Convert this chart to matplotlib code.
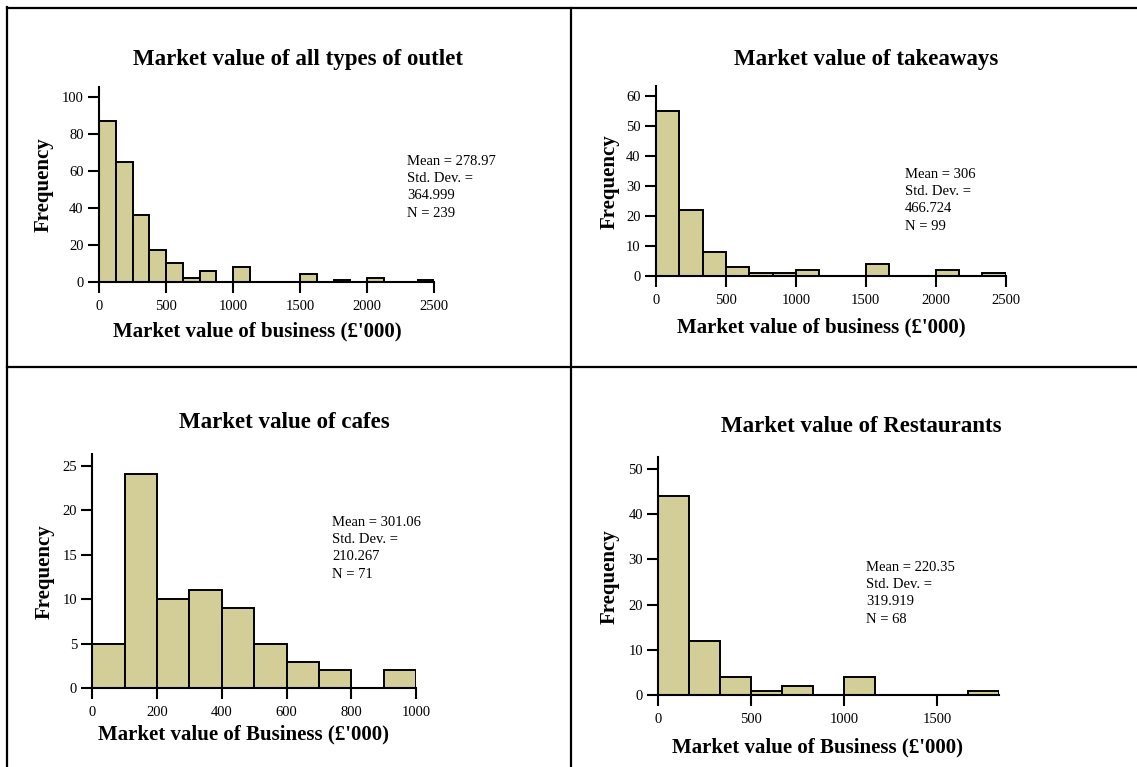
import numpy as np
import matplotlib.pyplot as plt
from matplotlib.lines import Line2D

plt.rcParams["font.family"] = ["Liberation Serif", "DejaVu Serif"]

# Frequencies per bin
outlet_edges = np.arange(0, 2500 + 1, 125)
outlet_counts = [87, 65, 36, 17, 10, 2, 6, 0, 8, 0, 0, 0, 4, 0, 1, 0, 2, 0, 0, 1]

takeaway_edges = np.linspace(0, 2500, 16)
takeaway_counts = [55, 22, 8, 3, 1, 1, 2, 0, 0, 4, 0, 0, 2, 0, 1]

cafe_edges = np.arange(0, 1000 + 1, 100)
cafe_counts = [5, 24, 10, 11, 9, 5, 3, 2, 0, 2]

restaurant_edges = np.linspace(0, 11 * 2500 / 15, 12)
restaurant_counts = [44, 12, 4, 1, 2, 0, 4, 0, 0, 0, 1]

titles = [
    "Market value of all types of outlet",
    "Market value of takeaways",
    "Market value of cafes",
    "Market value of Restaurants",
]
xlabels = [
    "Market value of business (£'000)",
    "Market value of business (£'000)",
    "Market value of Business (£'000)",
    "Market value of Business (£'000)",
]
stats = [
    "Mean = 278.97\nStd. Dev. =\n364.999\nN = 239",
    "Mean = 306\nStd. Dev. =\n466.724\nN = 99",
    "Mean = 301.06\nStd. Dev. =\n210.267\nN = 71",
    "Mean = 220.35\nStd. Dev. =\n319.919\nN = 68",
]
x_ticks = [
    [0, 500, 1000, 1500, 2000, 2500],
    [0, 500, 1000, 1500, 2000, 2500],
    [0, 200, 400, 600, 800, 1000],
    [0, 500, 1000, 1500],
]
y_ticks = [
    [0, 20, 40, 60, 80, 100],
    [0, 10, 20, 30, 40, 50, 60],
    [0, 5, 10, 15, 20, 25],
    [0, 10, 20, 30, 40, 50],
]
y_tops = [105.7, 63.3, 26.3, 52.7]

W, H = 1137, 767
bar_color = "#d3ce98"

fig = plt.figure(figsize=(W / 100, H / 100), dpi=100)


def px(x, y):
    # pixel position -> figure fraction
    return x / W, 1 - y / H


# axes boxes in pixels: left, x-axis row, width, top of y spine
boxes = [
    (99, 281.7, 335.3, 86.7),
    (656, 276.3, 349.7, 86.0),
    (92.3, 688.3, 323.7, 454.0),
    (658.3, 695.3, 341.0, 456.7),
]
title_pos = [(298, 60), (866, 60), (284, 423), (861, 426)]
xlabel_pos = [(257, 331), (821, 327), (244, 734), (818, 747)]
ylabel_pos = [(44, 185), (610, 182), (45, 572), (610, 577)]
stats_pos = [(407, 155), (905, 168), (332, 516), (866, 561)]

data = [
    (outlet_edges, outlet_counts),
    (takeaway_edges, takeaway_counts),
    (cafe_edges, cafe_counts),
    (restaurant_edges, restaurant_counts),
]

for i, (edges, counts) in enumerate(data):
    left, base, width, top = boxes[i]
    ax = fig.add_axes([left / W, 1 - base / H, width / W, (base - top) / H])

    ax.bar(
        edges[:-1],
        counts,
        width=np.diff(edges),
        align="edge",
        color=bar_color,
        edgecolor="black",
        linewidth=1.4,
        zorder=2,
    )

    ax.set_xlim(edges[0], edges[-1])
    ax.set_ylim(0, y_tops[i])
    ax.set_xticks(x_ticks[i])
    ax.set_yticks(y_ticks[i])
    ax.patch.set_alpha(0)

    for side in ["top", "right"]:
        ax.spines[side].set_visible(False)
    for side in ["left", "bottom"]:
        ax.spines[side].set_linewidth(1.5)
        ax.spines[side].set_zorder(3)
    ax.tick_params(direction="out", length=8, width=1.5, labelsize=10.5, pad=3)
    ax.tick_params(axis="x", pad=5)

    fig.text(*px(*title_pos[i]), titles[i], ha="center", va="center",
             fontsize=16.5, fontweight="bold")
    fig.text(*px(*xlabel_pos[i]), xlabels[i], ha="center", va="center",
             fontsize=15, fontweight="bold")
    fig.text(*px(*ylabel_pos[i]), "Frequency", ha="center", va="center",
             rotation=90, fontsize=15, fontweight="bold")
    fig.text(*px(*stats_pos[i]), stats[i], ha="left", va="top",
             fontsize=10.5, linespacing=1.42)

# Frame lines around and between the panels
frame = [
    ((7, 7), (7, H)),
    ((7, W), (7.7, 7.7)),
    ((7, W), (367, 367)),
    ((571, 571), (7.7, H)),
]
for xs, ys in frame:
    fig.add_artist(
        Line2D([x / W for x in xs], [1 - y / H for y in ys], color="black", linewidth=1.6)
    )

fig.savefig("out.png", dpi=100)
plt.close(fig)
